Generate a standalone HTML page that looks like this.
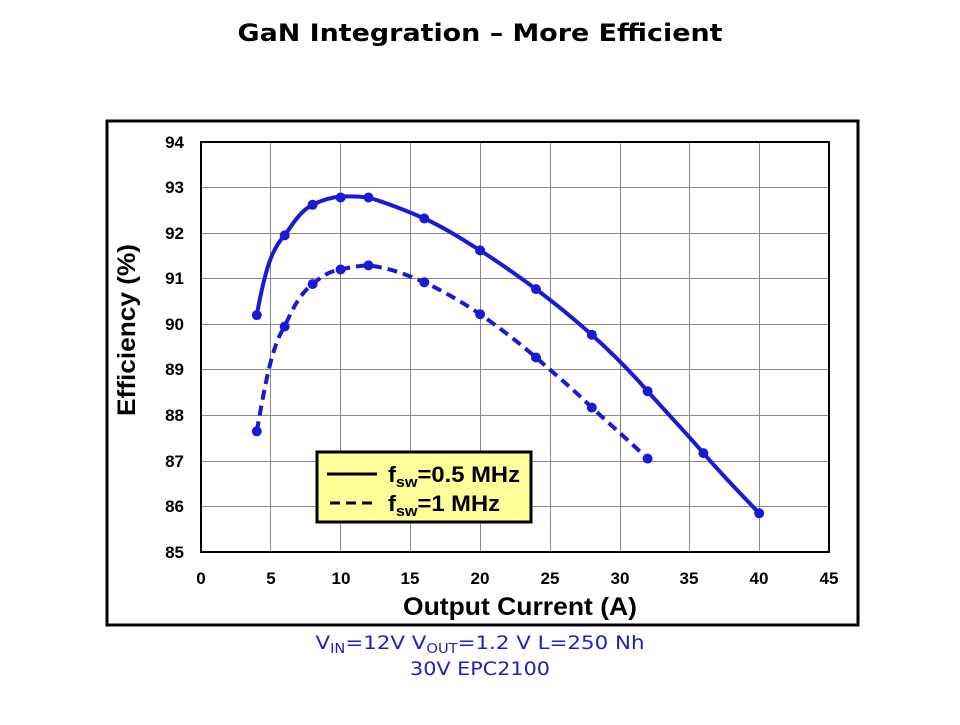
<!DOCTYPE html>
<html><head><meta charset="utf-8"><style>
body{margin:0;background:#fff;}
</style></head><body>
<svg width="960" height="720" viewBox="0 0 960 720" xmlns="http://www.w3.org/2000/svg" font-family="Liberation Sans, Arial, sans-serif">
<rect width="960" height="720" fill="#fff"/>
<text x="480" y="41" text-anchor="middle" font-family="DejaVu Sans, sans-serif" font-size="24" font-weight="bold" fill="#000" textLength="485" lengthAdjust="spacingAndGlyphs">GaN Integration – More Efficient</text>
<rect x="107" y="121" width="751" height="504" fill="none" stroke="#000" stroke-width="3"/>
<g stroke="#888" stroke-width="1">
<line x1="270.5" y1="142" x2="270.5" y2="552"/><line x1="340.5" y1="142" x2="340.5" y2="552"/>
<line x1="410.5" y1="142" x2="410.5" y2="552"/><line x1="480.5" y1="142" x2="480.5" y2="552"/>
<line x1="550.5" y1="142" x2="550.5" y2="552"/><line x1="620.5" y1="142" x2="620.5" y2="552"/>
<line x1="689.5" y1="142" x2="689.5" y2="552"/><line x1="759.5" y1="142" x2="759.5" y2="552"/>
<line x1="201" y1="187.5" x2="829" y2="187.5"/><line x1="201" y1="233.5" x2="829" y2="233.5"/>
<line x1="201" y1="278.5" x2="829" y2="278.5"/><line x1="201" y1="324.5" x2="829" y2="324.5"/>
<line x1="201" y1="369.5" x2="829" y2="369.5"/><line x1="201" y1="415.5" x2="829" y2="415.5"/>
<line x1="201" y1="461.5" x2="829" y2="461.5"/><line x1="201" y1="506.5" x2="829" y2="506.5"/>
</g>
<rect x="201" y="142" width="628" height="410" fill="none" stroke="#000" stroke-width="2"/>
<g font-size="17" font-weight="bold" text-anchor="end" fill="#000">
<text x="184" y="148">94</text><text x="184" y="193">93</text><text x="184" y="239">92</text>
<text x="184" y="284">91</text><text x="184" y="330">90</text><text x="184" y="375">89</text>
<text x="184" y="421">88</text><text x="184" y="467">87</text><text x="184" y="512">86</text>
<text x="184" y="558">85</text>
</g>
<g font-size="17" font-weight="bold" text-anchor="middle" fill="#000">
<text x="201" y="584">0</text><text x="271" y="584">5</text><text x="341" y="584">10</text>
<text x="410" y="584">15</text><text x="480" y="584">20</text><text x="550" y="584">25</text>
<text x="620" y="584">30</text><text x="689" y="584">35</text><text x="759" y="584">40</text>
<text x="829" y="584">45</text>
</g>
<text x="520" y="615" text-anchor="middle" font-size="25" font-weight="bold" textLength="234" lengthAdjust="spacingAndGlyphs">Output Current (A)</text>
<text transform="translate(135,330) rotate(-90)" text-anchor="middle" font-size="25" font-weight="bold" textLength="172" lengthAdjust="spacingAndGlyphs">Efficiency (%)</text>
<path d="M256.8,315.1 C265,270 272,248 284.7,235.4 C295,220 302,210 312.6,204.8 C322,200 330,197.5 340.6,196.5 C352,196 360,196.5 368.5,197.5 C390,204 405,210 424.3,218.5 C445,228 462,239 480.1,250.4 C500,263 518,276 536,289.1 C556,304 574,319 591.8,334.7 C612,353 630,371 647.6,391.2 C668,414 686,433 703.4,453.1 C722,475 741,494 759.2,513.3" fill="none" stroke="#1a1ad6" stroke-width="4"/>
<path d="M256.8,431.3 C265,385 272,345 284.7,326.5 C294,305 302,292 312.6,284.1 C322,276 330,271 340.6,269.5 C352,267 360,265.5 368.5,265.4 C390,268 405,274 424.3,282.3 C445,292 462,302 480.1,314.2 C500,328 518,342 536,357.5 C556,375 574,390 591.8,407.6 C612,426 630,442 647.6,458.6" fill="none" stroke="#1a1ad6" stroke-width="4" stroke-dasharray="10,6"/>
<g fill="#1a1ad6">
<circle cx="256.8" cy="315.1" r="5"/><circle cx="284.7" cy="235.4" r="5"/><circle cx="312.6" cy="204.8" r="5"/>
<circle cx="340.6" cy="197.5" r="5"/><circle cx="368.5" cy="197.5" r="5"/><circle cx="424.3" cy="218.5" r="5"/>
<circle cx="480.1" cy="250.4" r="5"/><circle cx="536" cy="289.1" r="5"/><circle cx="591.8" cy="334.7" r="5"/>
<circle cx="647.6" cy="391.2" r="5"/><circle cx="703.4" cy="453.1" r="5"/><circle cx="759.2" cy="513.3" r="5"/>
<circle cx="256.8" cy="431.3" r="5"/><circle cx="284.7" cy="326.5" r="5"/><circle cx="312.6" cy="284.1" r="5"/>
<circle cx="340.6" cy="269.5" r="5"/><circle cx="368.5" cy="265.4" r="5"/><circle cx="424.3" cy="282.3" r="5"/>
<circle cx="480.1" cy="314.2" r="5"/><circle cx="536" cy="357.5" r="5"/><circle cx="591.8" cy="407.6" r="5"/>
<circle cx="647.6" cy="458.6" r="5"/>
</g>
<rect x="317" y="452" width="214" height="70" fill="#ffff99" stroke="#000" stroke-width="3"/>
<line x1="327" y1="474" x2="377" y2="474" stroke="#000" stroke-width="3"/>
<line x1="330" y1="503" x2="377" y2="503" stroke="#000" stroke-width="3" stroke-dasharray="10,6"/>
<text x="388" y="482" font-size="22" font-weight="bold" textLength="132" lengthAdjust="spacingAndGlyphs">f<tspan font-size="15" dy="5">sw</tspan><tspan dy="-5">=0.5 MHz</tspan></text>
<text x="388" y="511" font-size="22" font-weight="bold" textLength="112" lengthAdjust="spacingAndGlyphs">f<tspan font-size="15" dy="5">sw</tspan><tspan dy="-5">=1 MHz</tspan></text>
<g fill="#2020c0" font-family="DejaVu Sans, sans-serif" font-size="19" text-anchor="middle">
<text x="480" y="649" textLength="329" lengthAdjust="spacingAndGlyphs">V<tspan font-size="13" dy="4">IN</tspan><tspan dy="-4">=12V  V</tspan><tspan font-size="13" dy="4">OUT</tspan><tspan dy="-4">=1.2 V L=250 Nh</tspan></text>
<text x="480" y="675" textLength="140" lengthAdjust="spacingAndGlyphs">30V EPC2100</text>
</g>
</svg>
</body></html>
